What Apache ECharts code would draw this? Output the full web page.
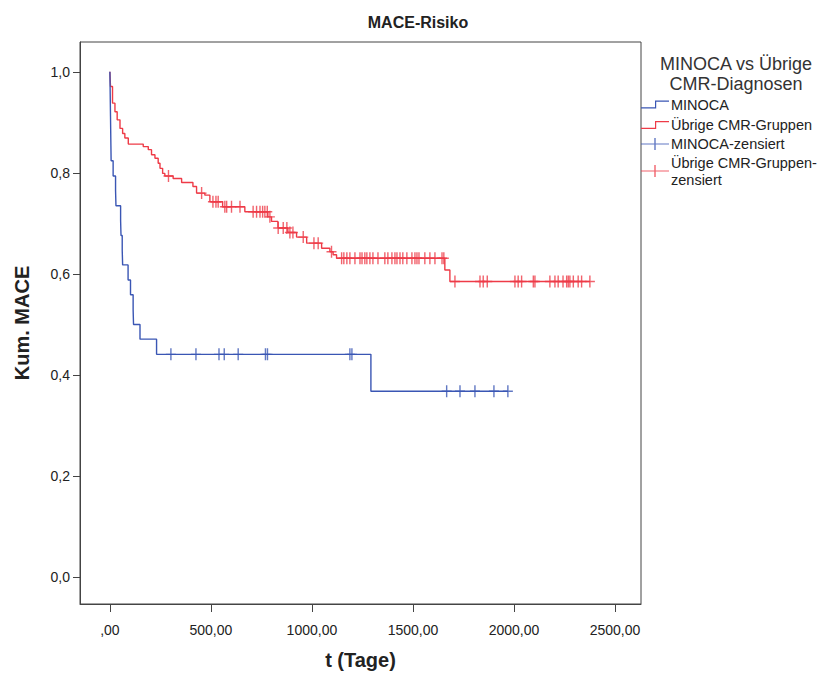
<!DOCTYPE html>
<html><head><meta charset="utf-8">
<script src="https://cdn.jsdelivr.net/npm/echarts@6/dist/echarts.min.js"></script>
<style>html,body{margin:0;padding:0;background:#fff}#c{width:822px;height:675px}</style>
</head><body><div id="c"></div>
<script>
// ---- data ----
const xTicks = [0, 500, 1000, 1500, 2000, 2500];
const yTicks = [0, 0.2, 0.4, 0.6, 0.8, 1.0];

const minocaTimes = [0, 1, 2, 3, 4, 5, 6, 16, 28, 30, 53, 55, 61, 63, 90, 102, 115, 117, 149, 231, 1292];
const minocaSurv  = [1.0, 0.971, 0.941, 0.912, 0.882, 0.853, 0.824, 0.794, 0.765, 0.735, 0.706, 0.676, 0.647, 0.618, 0.588, 0.559, 0.529, 0.5, 0.471, 0.441, 0.368];
const minocaCensor = [302, 426, 540, 566, 635, 770, 780, 1188, 1198, 1667, 1733, 1807, 1901, 1970];

const otherTimes = [0, 3, 13, 25, 36, 50, 63, 74, 91, 165, 190, 206, 223, 239, 248, 261, 272, 313, 355, 411, 429, 470, 495, 558, 668, 782, 800, 832, 881, 924, 974, 1048, 1089, 1105, 1122, 1658, 1683];
const otherSurv  = [1.0, 0.971, 0.938, 0.921, 0.905, 0.888, 0.878, 0.869, 0.857, 0.852, 0.846, 0.836, 0.829, 0.819, 0.809, 0.799, 0.794, 0.789, 0.781, 0.773, 0.760, 0.756, 0.743, 0.733, 0.723, 0.713, 0.704, 0.691, 0.682, 0.673, 0.661, 0.651, 0.644, 0.638, 0.631, 0.608, 0.585];
const otherCensor = [290, 454, 510, 525, 536, 569, 578, 602, 644, 709, 726, 743, 756, 767, 779, 792, 833, 858, 876, 891, 906, 957, 1010, 1031, 1097,
  1147, 1158, 1173, 1188, 1213, 1238, 1248, 1262, 1272, 1287, 1302, 1327, 1361, 1376, 1396, 1411, 1421, 1436, 1450, 1470, 1495, 1510, 1520, 1530, 1559, 1584, 1609, 1644, 1653,
  1708, 1832, 1848, 1868, 2005, 2021, 2038, 2096, 2104, 2178, 2203, 2219, 2243, 2261, 2269, 2277, 2294, 2318, 2335, 2376];

const seriesNames = ['MINOCA', 'Übrige CMR-Gruppen', 'MINOCA-zensiert', 'Übrige CMR-Gruppen-\nzensiert'];
const blue = '#3a56b4';
const red = '#ee3b47';

// ---- helpers ----
function stepData(times, surv, censor) {
  const d = times.map((t, i) => [t, surv[i]]);
  const end = Math.max(times[times.length - 1], censor[censor.length - 1]);
  d.push([end, surv[surv.length - 1]]);
  return d;
}
function survAt(times, surv, t) {
  let s = surv[0];
  for (let i = 0; i < times.length; i++) if (times[i] <= t) s = surv[i];
  return s;
}
function censorData(times, surv, censor) {
  return censor.map(t => [t, survAt(times, surv, t)]);
}

const FONT = 'Liberation Sans, Arial, sans-serif';
const plus = 'path://M0,5.3h10v1.4h-10zM4.3,0h1.4v12h-1.4z';
const stepIcon = 'path://M0,7h15v1.2h-15zM14,0h1.2v8.2h-1.2zM14,0h14v1.2h-14z';
const censorIcon = 'path://M0,5.4h28v1.2h-28zM13.3,0h1.4v12h-1.4z';

const chart = echarts.init(document.getElementById('c'), null, {renderer: 'svg'});
chart.setOption({
  animation: false,
  backgroundColor: '#fff',
  title: [
    {text: 'MACE-Risiko', left: 413, top: 9, textAlign: 'center',
     textStyle: {fontFamily: FONT, fontSize: 16, fontWeight: 'bold', color: '#222'}},
    {text: 'MINOCA vs Übrige\nCMR-Diagnosen', left: 731, top: 49, textAlign: 'center',
     textStyle: {fontFamily: FONT, fontSize: 18, fontWeight: 'normal', color: '#333', lineHeight: 20}}
  ],
  legend: [
    {data: [{name: seriesNames[0], icon: stepIcon}, {name: seriesNames[1], icon: stepIcon}],
     orient: 'vertical', left: 641, top: 96, padding: 0, itemWidth: 28, itemHeight: 8, itemGap: 3.5,
     symbolKeepAspect: false, selectedMode: false,
     textStyle: {fontFamily: FONT, fontSize: 14.5, color: '#222', lineHeight: 17, padding: [0,0,0,-3]}},
    {data: [{name: seriesNames[2], icon: censorIcon}, {name: seriesNames[3], icon: censorIcon}],
     orient: 'vertical', left: 641, top: 135.5, padding: 0, itemWidth: 28, itemHeight: 12, itemGap: 1.5,
     symbolKeepAspect: false, selectedMode: false,
     textStyle: {fontFamily: FONT, fontSize: 14.5, color: '#222', lineHeight: 17, padding: [0,0,0,-3]}}
  ],
  grid: {left: 80, right: 181, top: 42, bottom: 71, show: true, borderColor: '#444', borderWidth: 1, containLabel: false},
  xAxis: {
    type: 'value', min: -148, max: 2629,
    name: 't (Tage)', nameLocation: 'middle', nameGap: 46,
    nameTextStyle: {fontFamily: FONT, fontSize: 20, fontWeight: 'bold', color: '#222'},
    axisLine: {show: true, onZero: false, lineStyle: {color: '#444', width: 1}},
    axisTick: {show: true, length: 8, customValues: xTicks, lineStyle: {color: '#444'}},
    axisLabel: {customValues: xTicks, margin: 19, fontFamily: FONT, fontSize: 14, color: '#222',
      formatter: v => (v === 0 ? '' : String(v)) + ',00'},
    splitLine: {show: false}
  },
  yAxis: {
    type: 'value', min: -0.053, max: 1.059,
    name: 'Kum. MACE', nameLocation: 'middle', nameGap: 48, nameRotate: 90,
    nameTextStyle: {fontFamily: FONT, fontSize: 20, fontWeight: 'bold', color: '#222'},
    axisLine: {show: true, onZero: false, lineStyle: {color: '#444', width: 1}},
    axisTick: {show: true, length: 7, customValues: yTicks, lineStyle: {color: '#444'}},
    axisLabel: {customValues: yTicks, margin: 10, fontFamily: FONT, fontSize: 14, color: '#222',
      formatter: v => v.toFixed(1).replace('.', ',')},
    splitLine: {show: false}
  },
  series: [
    {name: seriesNames[0], type: 'line', step: 'end', showSymbol: false, data: stepData(minocaTimes, minocaSurv, minocaCensor),
     color: blue, lineStyle: {color: blue, width: 1.4}, z: 3},
    {name: seriesNames[1], type: 'line', step: 'end', showSymbol: false, data: stepData(otherTimes, otherSurv, otherCensor),
     color: red, lineStyle: {color: red, width: 1.4}, z: 2},
    {name: seriesNames[2], type: 'scatter', symbol: plus, symbolSize: [10, 12], symbolKeepAspect: false,
     data: censorData(minocaTimes, minocaSurv, minocaCensor), itemStyle: {color: blue}, z: 4},
    {name: seriesNames[3], type: 'scatter', symbol: plus, symbolSize: [10, 12], symbolKeepAspect: false,
     data: censorData(otherTimes, otherSurv, otherCensor), itemStyle: {color: red}, z: 4}
  ]
});
</script></body></html>
